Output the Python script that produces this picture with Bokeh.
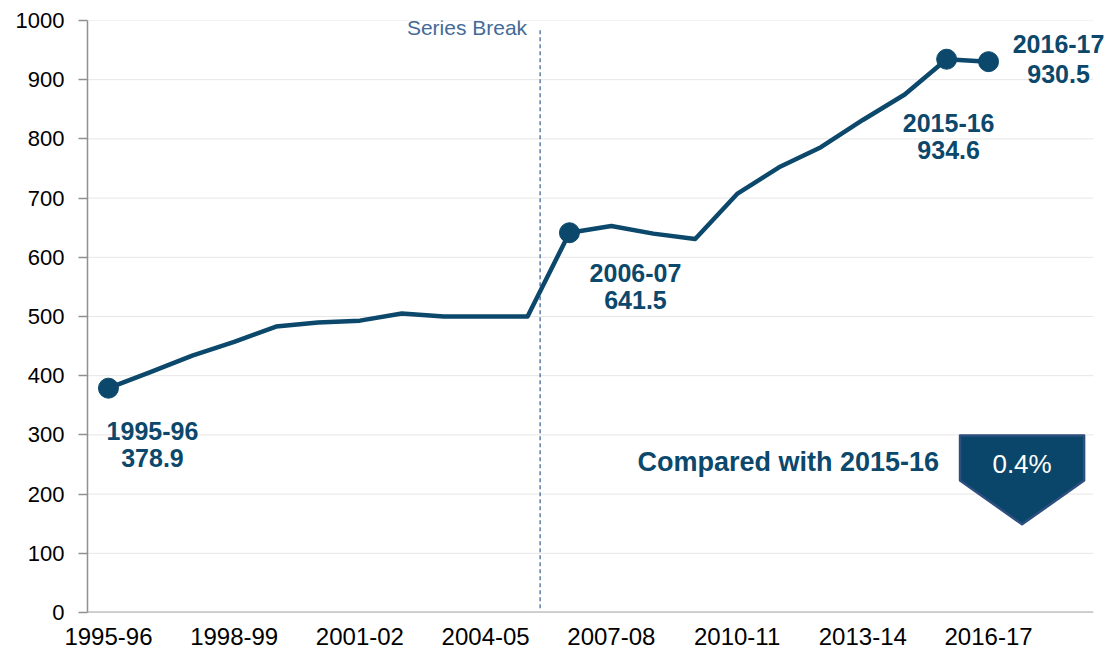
from bokeh.plotting import figure
from bokeh.models import FixedTicker, Range1d, Label
from bokeh.core.properties import value
from bokeh.embed import file_html
from bokeh.resources import INLINE

# ---- data ----
years = ["1995-96", "1996-97", "1997-98", "1998-99", "1999-00", "2000-01",
         "2001-02", "2002-03", "2003-04", "2004-05", "2005-06", "2006-07",
         "2007-08", "2008-09", "2009-10", "2010-11", "2011-12", "2012-13",
         "2013-14", "2014-15", "2015-16", "2016-17"]
values = [378.9, 406, 434, 457, 483, 490, 493, 505, 500, 500, 500, 641.5,
          653, 640, 631, 707, 752, 786, 832, 875, 934.6, 930.5]
tick_labels = ["1995-96", "1998-99", "2001-02", "2004-05",
               "2007-08", "2010-11", "2013-14", "2016-17"]
y_ticks = [0, 100, 200, 300, 400, 500, 600, 700, 800, 900, 1000]
labelled_years = ["1995-96", "2006-07", "2015-16", "2016-17"]
break_after = "2005-06"
break_label = "Series Break"
compare_year = "2015-16"
latest_year = "2016-17"

# ---- style ----
NAVY = "#0b486b"
FONT = "Liberation Sans"
# (x offset, line-1 y offset, line-2 y offset) in pixels for each data label
label_offsets = {"1995-96": (44, 43, 70), "2006-07": (66, 40, 67),
                 "2015-16": (2, 64, 91), "2016-17": (70, -18, 12)}
X_START, X_END, X_PAD = -0.5, 23.5, 0.41   # axis extent; extra room for labels

x = list(range(len(years)))

p = figure(width=1112, height=650, output_backend="svg", toolbar_location=None,
           x_range=Range1d(X_START, X_END + X_PAD), y_range=Range1d(0, 1000))
p.min_border_left = 87
p.min_border_right = 2
p.min_border_top = 20
p.min_border_bottom = 38
p.outline_line_color = None
p.background_fill_color = "white"
p.border_fill_color = "white"

# grid (drawn as segments so it stops where the reference's does)
p.xgrid.grid_line_color = None
p.ygrid.grid_line_color = None
p.segment(x0=[X_START] * len(y_ticks), x1=[X_END] * len(y_ticks),
          y0=y_ticks, y1=y_ticks, line_color="#e6e6e6", line_width=1)

# axes
p.xaxis.ticker = FixedTicker(ticks=[years.index(t) for t in tick_labels])
p.xaxis.major_label_overrides = {years.index(t): t for t in tick_labels}
p.xaxis.major_tick_line_color = None
p.xaxis.minor_tick_line_color = None
p.xaxis.axis_line_color = None
p.xaxis.major_label_text_font = FONT
p.xaxis.major_label_text_font_size = "24px"
p.xaxis.major_label_text_color = "#000000"
p.xaxis.major_label_standoff = 9
p.segment(x0=[X_START], x1=[X_END], y0=[0], y1=[0],
          line_color="#a6a6a6", line_width=2)

p.yaxis.ticker = FixedTicker(ticks=y_ticks)
p.yaxis.minor_tick_line_color = None
p.yaxis.major_tick_out = 9
p.yaxis.major_tick_in = 0
p.yaxis.major_tick_line_color = "#909090"
p.yaxis.major_tick_line_width = 1.5
p.yaxis.axis_line_color = "#909090"
p.yaxis.axis_line_width = 1.5
p.yaxis.major_label_text_font = FONT
p.yaxis.major_label_text_font_size = "22px"
p.yaxis.major_label_text_color = "#000000"
p.yaxis.major_label_standoff = 14

# series break
bx = years.index(break_after) + 0.3
p.segment(x0=[bx], y0=[7], x1=[bx], y1=[985], line_color="#4a6a95",
          line_width=1.3, line_dash="4 3")
p.text(x=[bx], y=[1000], text=[break_label], x_offset=-13, y_offset=7,
       text_align="right", text_baseline="middle", text_color="#456a96",
       text_font=value(FONT), text_font_size="21px")

# main line
p.line(x, values, line_color=NAVY, line_width=4.5, line_join="round")
lx = [years.index(y) for y in labelled_years]
lv = [values[i] for i in lx]
p.scatter(lx, lv, size=20, fill_color=NAVY, line_color=NAVY)

for yr in labelled_years:
    i = years.index(yr)
    dx, dy1, dy2 = label_offsets[yr]
    for txt, dy in ((yr, dy1), (f"{values[i]:.1f}", dy2)):
        p.add_layout(Label(x=i, y=values[i], text=txt, x_offset=dx,
                           y_offset=-dy, text_align="center",
                           text_baseline="middle", text_color=NAVY,
                           text_font=FONT, text_font_style="bold",
                           text_font_size="25px"))

# comparison badge
ci, li = years.index(compare_year), years.index(latest_year)
change = abs(values[li] - values[ci]) / values[ci] * 100
bcx, bhw = 21.8, 1.48
btop, bsh, btip = 299, 223, 149
p.patch([bcx - bhw, bcx + bhw, bcx + bhw, bcx, bcx - bhw],
        [btop, btop, bsh, btip, bsh],
        fill_color="#0a4669", line_color="#2d4f7f", line_width=2.5,
        line_join="round")
p.text(x=[bcx], y=[(btop + bsh) / 2], text=[f"{change:.1f}%"], y_offset=6,
       text_align="center", text_baseline="middle", text_color="white",
       text_font=value(FONT), text_font_size="26px")
p.text(x=[bcx - bhw], y=[254], text=[f"Compared with {compare_year}"],
       x_offset=-21, text_align="right", text_baseline="middle",
       text_color=NAVY, text_font=value(FONT), text_font_style="bold",
       text_font_size="27px")

open("out.html", "w").write(file_html(p, INLINE))
